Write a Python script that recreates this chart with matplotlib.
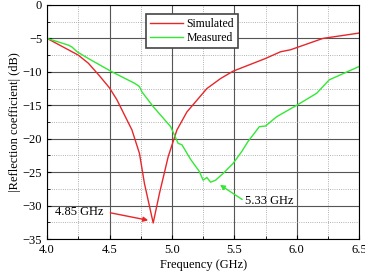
import matplotlib
matplotlib.use("Agg")
import matplotlib.pyplot as plt
from matplotlib.ticker import MultipleLocator, FormatStrFormatter

plt.rcParams["font.family"] = ["Liberation Serif", "DejaVu Serif"]

# simulated |S11| (dB)
sim_f = [4.0, 4.12, 4.25, 4.33, 4.42, 4.50, 4.56, 4.60, 4.68, 4.74, 4.78, 4.85, 4.90,
         4.97, 5.04, 5.12, 5.28, 5.39, 5.49, 5.75, 5.87, 5.95, 6.21, 6.5]
sim_db = [-5.0, -6.2, -7.5, -8.7, -10.6, -12.4, -14.2, -15.7, -18.7, -22.2, -26.7, -32.6, -28.2,
          -22.7, -18.7, -16.0, -12.5, -11.0, -9.9, -8.0, -7.0, -6.7, -5.0, -4.2]

# measured |S11| (dB)
mea_f = [4.0, 4.17, 4.20, 4.24, 4.33, 4.52, 4.70, 4.74, 4.76, 4.85, 4.99, 5.05,
         5.08, 5.15, 5.22, 5.25, 5.28, 5.31, 5.35, 5.41, 5.49, 5.56, 5.61, 5.66,
         5.70, 5.75, 5.84, 6.0, 6.16, 6.26, 6.5]
mea_db = [-5.0, -6.0, -6.3, -7.0, -8.0, -10.0, -11.7, -12.2, -13.0, -15.2, -18.2, -20.7,
          -20.9, -23.1, -24.9, -26.2, -25.8, -26.5, -26.2, -25.2, -23.7, -21.9, -20.4, -19.2,
          -18.2, -18.1, -16.7, -15.0, -13.2, -11.2, -9.2]

fig = plt.figure(figsize=(3.65, 2.76), dpi=100)
ax = fig.add_axes([0.129, 0.134, 0.855, 0.848])

ax.plot(sim_f, sim_db, color="#e8262a", lw=1.0, label="Simulated")
ax.plot(mea_f, mea_db, color="#33e833", lw=1.0, label="Measured")

ax.set_xlim(4.0, 6.5)
ax.set_ylim(-35, 0)
ax.xaxis.set_major_locator(MultipleLocator(0.5))
ax.xaxis.set_minor_locator(MultipleLocator(0.25))
ax.yaxis.set_major_locator(MultipleLocator(5))
ax.yaxis.set_minor_locator(MultipleLocator(2.5))
ax.xaxis.set_major_formatter(FormatStrFormatter("%.1f"))
ax.grid(which="major", color="#555555", lw=0.8)
ax.grid(which="minor", color="#999999", lw=0.6, ls=":")
ax.tick_params(which="both", direction="in", labelsize=9, length=3)
ax.tick_params(which="minor", length=2)

ax.set_xlabel("Frequency (GHz)", fontsize=9, labelpad=2)
ax.set_ylabel("|Reflection coefficient| (dB)", fontsize=9, labelpad=1)

leg = ax.legend(loc="upper left", bbox_to_anchor=(0.298, 0.986), fontsize=8.5,
                fancybox=False, shadow=False, handlelength=2.8, borderpad=0.35,
                labelspacing=0.15, handletextpad=0.3, framealpha=1)
leg.get_frame().set_edgecolor("#444444")
leg.get_frame().set_linewidth(1.2)

ax.annotate("4.85 GHz", xy=(4.81, -32.2), xytext=(4.06, -30.9), fontsize=9,
            va="center", color="black",
            arrowprops=dict(arrowstyle="-|>", color="#e8262a", lw=1.0,
                            shrinkA=0, shrinkB=0, mutation_scale=7,
                            relpos=(1.15, 0.4)))
ax.annotate("5.33 GHz", xy=(5.385, -26.9), xytext=(5.585, -29.3), fontsize=9,
            va="center", color="black",
            arrowprops=dict(arrowstyle="-|>", color="#33e833", lw=1.0,
                            shrinkA=0, shrinkB=0, mutation_scale=7,
                            relpos=(-0.05, 0.6)))

fig.savefig("out.png", dpi=100)
